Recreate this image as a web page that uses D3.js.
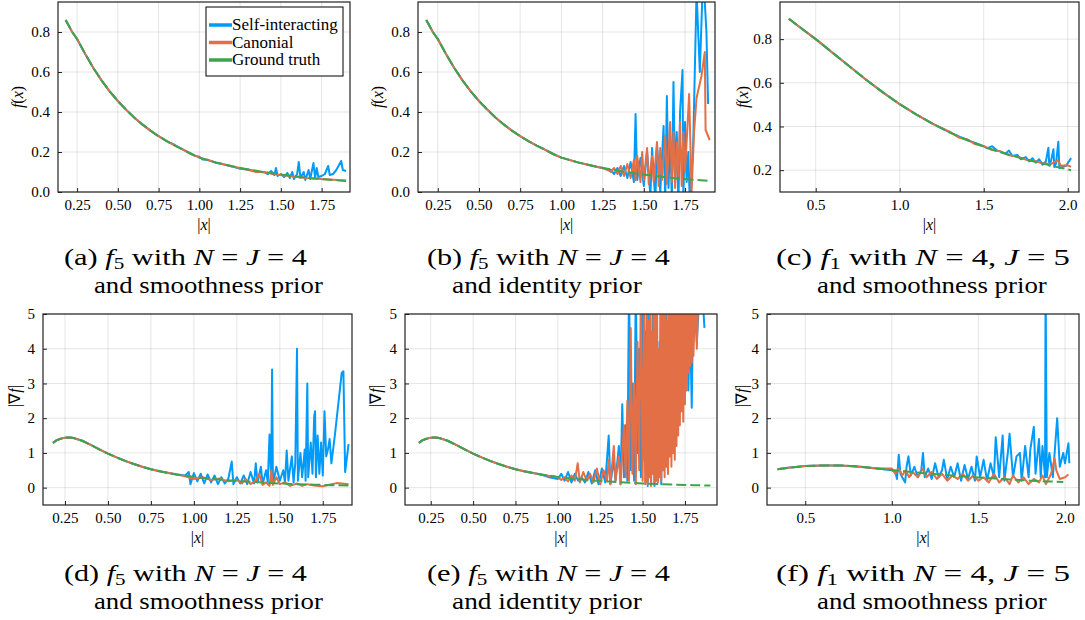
<!DOCTYPE html>
<html>
<head>
<meta charset="utf-8">
<script src="https://cdn.jsdelivr.net/npm/d3@7"></script>
<style>
  body { margin: 0; background: #fff; }
  text { font-family: "Liberation Serif", "Times New Roman", serif; fill: #000; }
</style>
</head>
<body>
<svg id="chart" width="1085" height="620"></svg>
<script>
// ground truth curves
const f5Truth = [[0.18,0.860],[0.20,0.830],[0.22,0.800],[0.25,0.765],[0.30,0.690],[0.35,0.620],[0.40,0.558],[0.45,0.503],[0.50,0.455],[0.55,0.412],[0.60,0.373],[0.65,0.338],[0.70,0.307],[0.75,0.279],[0.80,0.254],[0.85,0.232],[0.90,0.212],[0.95,0.190],[1.00,0.172],[1.10,0.148],[1.20,0.129],[1.30,0.113],[1.40,0.099],[1.50,0.087],[1.60,0.077],[1.70,0.068],[1.80,0.061],[1.90,0.055]];
const gradF5Truth = [[0.18,1.29],[0.20,1.36],[0.22,1.40],[0.25,1.44],[0.28,1.445],[0.30,1.43],[0.35,1.35],[0.40,1.23],[0.45,1.10],[0.50,0.98],[0.55,0.87],[0.60,0.77],[0.65,0.68],[0.70,0.60],[0.75,0.53],[0.80,0.47],[0.90,0.38],[1.00,0.31],[1.10,0.255],[1.20,0.21],[1.30,0.175],[1.40,0.145],[1.50,0.12],[1.60,0.10],[1.70,0.085],[1.80,0.07],[1.90,0.06]];
const f1Truth = [[0.34,0.893],[0.40,0.858],[0.50,0.800],[0.60,0.738],[0.70,0.676],[0.80,0.614],[0.90,0.556],[1.00,0.502],[1.10,0.454],[1.20,0.411],[1.30,0.372],[1.40,0.338],[1.50,0.308],[1.60,0.282],[1.70,0.260],[1.80,0.240],[1.90,0.221],[2.02,0.200]];
const gradF1Truth = [[0.34,0.53],[0.40,0.57],[0.50,0.62],[0.60,0.64],[0.70,0.64],[0.80,0.61],[0.90,0.56],[1.00,0.51],[1.10,0.46],[1.20,0.41],[1.30,0.37],[1.40,0.33],[1.50,0.29],[1.60,0.26],[1.70,0.23],[1.80,0.20],[1.90,0.18],[1.99,0.16]];

// noisy tails of the estimates (self-interacting = blue, canonial = orange)
const aBlue = [[0.85,0.235],[0.90,0.212],[0.95,0.192],[0.97,0.182],[1.00,0.176],[1.02,0.163],[1.05,0.161],[1.10,0.146],[1.15,0.137],[1.20,0.128],[1.25,0.116],[1.30,0.112],[1.35,0.103],[1.40,0.098],[1.42,0.090],[1.44,0.105],[1.46,0.085],[1.47,0.120],[1.48,0.080],[1.50,0.090],[1.52,0.075],[1.54,0.095],[1.555,0.070],[1.57,0.100],[1.58,0.065],[1.60,0.090],[1.61,0.150],[1.62,0.070],[1.64,0.100],[1.65,0.060],[1.67,0.110],[1.68,0.065],[1.70,0.145],[1.71,0.070],[1.72,0.120],[1.73,0.075],[1.75,0.080],[1.77,0.090],[1.79,0.130],[1.80,0.085],[1.82,0.090],[1.84,0.110],[1.87,0.155],[1.88,0.110],[1.90,0.105]];
const aOrange = [[1.30,0.110],[1.35,0.100],[1.40,0.100],[1.45,0.090],[1.50,0.085],[1.55,0.080],[1.60,0.075],[1.65,0.070],[1.70,0.068],[1.75,0.065],[1.80,0.063],[1.85,0.060],[1.90,0.058]];
const bBlue = [[1.30,0.110],[1.32,0.090],[1.34,0.120],[1.36,0.080],[1.38,0.130],[1.40,0.070],[1.42,0.150],[1.44,0.050],[1.45,0.390],[1.46,0.060],[1.48,0.170],[1.50,0.030],[1.52,0.200],[1.54,-0.02],[1.55,0.220],[1.57,-0.05],[1.58,0.240],[1.60,0.000],[1.62,0.330],[1.63,-0.05],[1.64,0.480],[1.65,0.020],[1.66,0.280],[1.67,-0.04],[1.68,0.550],[1.69,0.050],[1.70,0.300],[1.71,-0.06],[1.72,0.400],[1.735,0.610],[1.74,-0.03],[1.75,0.350],[1.76,0.050],[1.77,0.200],[1.78,-0.08],[1.80,0.250],[1.82,1.000],[1.84,0.600],[1.86,1.100],[1.88,0.800],[1.89,0.440]];
const bOrange = [[1.25,0.120],[1.28,0.110],[1.30,0.100],[1.32,0.120],[1.34,0.090],[1.36,0.130],[1.38,0.080],[1.40,0.140],[1.42,0.070],[1.44,0.160],[1.45,0.060],[1.46,0.180],[1.48,0.050],[1.49,0.200],[1.50,0.060],[1.52,0.220],[1.53,0.040],[1.55,0.180],[1.56,0.050],[1.58,0.250],[1.59,0.030],[1.60,0.220],[1.61,0.060],[1.63,0.280],[1.64,0.040],[1.65,0.200],[1.66,0.350],[1.67,0.050],[1.68,0.300],[1.69,0.020],[1.70,0.250],[1.71,0.080],[1.72,0.350],[1.73,0.030],[1.74,0.300],[1.75,0.100],[1.76,0.250],[1.775,0.490],[1.79,0.000],[1.805,0.300],[1.82,0.470],[1.85,0.580],[1.87,0.700],[1.875,0.310],[1.90,0.260]];
const cBlue = [[1.40,0.338],[1.45,0.325],[1.50,0.310],[1.52,0.300],[1.55,0.310],[1.58,0.290],[1.60,0.285],[1.63,0.275],[1.65,0.290],[1.67,0.265],[1.70,0.270],[1.72,0.250],[1.75,0.260],[1.77,0.240],[1.79,0.255],[1.81,0.235],[1.83,0.250],[1.85,0.225],[1.87,0.240],[1.885,0.303],[1.89,0.220],[1.90,0.240],[1.915,0.296],[1.92,0.215],[1.93,0.230],[1.944,0.330],[1.95,0.210],[1.97,0.215],[1.99,0.220],[2.02,0.255]];
const cOrange = [[1.30,0.375],[1.35,0.350],[1.40,0.342],[1.45,0.318],[1.50,0.310],[1.55,0.292],[1.60,0.286],[1.65,0.268],[1.70,0.262],[1.75,0.248],[1.80,0.242],[1.85,0.232],[1.90,0.228],[1.94,0.245],[1.96,0.220],[2.00,0.222],[2.02,0.215]];
const dBlue = [[0.95,0.35],[0.97,0.45],[0.98,0.10],[1.00,0.42],[1.02,0.18],[1.04,0.40],[1.06,0.12],[1.08,0.38],[1.10,0.15],[1.12,0.35],[1.14,0.10],[1.16,0.30],[1.18,0.12],[1.20,0.25],[1.22,0.75],[1.23,0.10],[1.25,0.30],[1.27,0.12],[1.29,0.35],[1.31,0.10],[1.33,0.45],[1.35,0.12],[1.36,0.70],[1.37,0.15],[1.39,0.60],[1.40,0.10],[1.42,0.50],[1.43,0.15],[1.44,1.53],[1.45,0.20],[1.455,3.40],[1.46,0.10],[1.48,0.60],[1.50,0.20],[1.52,0.50],[1.53,0.15],[1.54,1.07],[1.55,0.20],[1.57,0.90],[1.58,0.15],[1.59,0.70],[1.60,4.00],[1.605,0.20],[1.62,1.00],[1.63,0.30],[1.645,1.10],[1.65,0.20],[1.66,3.00],[1.665,0.30],[1.68,1.30],[1.69,0.40],[1.70,2.05],[1.705,2.20],[1.71,0.30],[1.72,1.50],[1.73,0.40],[1.74,1.30],[1.75,0.35],[1.76,2.20],[1.77,0.90],[1.78,1.10],[1.79,1.40],[1.80,0.70],[1.82,1.50],[1.86,3.30],[1.87,3.35],[1.88,0.45],[1.90,1.25]];
const dOrange = [[0.95,0.33],[1.00,0.25],[1.05,0.30],[1.10,0.22],[1.15,0.26],[1.20,0.18],[1.25,0.22],[1.28,0.12],[1.30,0.25],[1.33,0.10],[1.36,0.20],[1.38,0.40],[1.40,0.08],[1.42,0.15],[1.44,0.05],[1.45,0.50],[1.46,0.08],[1.48,0.30],[1.50,0.10],[1.53,0.15],[1.56,0.05],[1.60,0.12],[1.63,0.05],[1.66,0.10],[1.70,0.06],[1.75,0.04],[1.80,0.10],[1.83,0.13],[1.86,0.12],[1.90,0.10]];
const eBlue = [[0.95,0.30],[1.00,0.25],[1.02,0.40],[1.04,0.20],[1.06,0.45],[1.08,0.15],[1.10,0.40],[1.12,0.20],[1.14,0.30],[1.16,0.15],[1.18,0.45],[1.20,0.12],[1.22,0.50],[1.24,0.10],[1.26,0.55],[1.28,0.15],[1.30,1.50],[1.31,0.10],[1.33,0.80],[1.34,0.20],[1.36,1.20],[1.37,0.10],[1.38,2.40],[1.39,0.30],[1.40,1.80],[1.41,0.20],[1.42,6.0],[1.43,0.50],[1.44,3.00],[1.45,0.20],[1.46,6.0],[1.47,1.00],[1.48,4.00],[1.49,0.30],[1.50,6.0],[1.51,0.80],[1.52,4.50],[1.53,0.05],[1.54,6.0],[1.55,0.10],[1.56,5.50],[1.57,0.05],[1.58,6.0],[1.59,0.20],[1.60,4.20],[1.61,0.10],[1.62,6.0],[1.63,0.60],[1.64,6.0],[1.65,0.40],[1.66,5.50],[1.67,1.50],[1.68,6.0],[1.69,1.20],[1.70,6.0],[1.71,2.00],[1.72,6.0],[1.73,3.00],[1.74,4.50],[1.75,3.50],[1.76,6.0],[1.77,2.80],[1.78,4.80],[1.79,2.30],[1.80,6.0],[1.82,4.20],[1.84,6.0],[1.86,5.00],[1.865,4.60]];
const eOrange = [[1.00,0.30],[1.02,0.22],[1.04,0.30],[1.06,0.18],[1.08,0.35],[1.10,0.20],[1.117,0.70],[1.13,0.15],[1.15,0.45],[1.17,0.20],[1.19,0.40],[1.21,0.15],[1.23,0.55],[1.25,0.10],[1.27,0.50],[1.29,0.20],[1.30,0.80],[1.31,0.10],[1.33,1.20],[1.34,0.20],[1.36,0.90],[1.37,0.10],[1.39,1.80],[1.40,0.30],[1.41,2.50],[1.42,0.20],[1.43,4.60],[1.44,0.40],[1.45,3.00],[1.46,0.10],[1.47,4.20],[1.48,0.50],[1.49,6.0],[1.50,0.20],[1.51,5.00],[1.515,0.10],[1.520,0.20],[1.525,6.0],[1.530,0.10],[1.535,4.80],[1.540,0.30],[1.545,6.0],[1.550,0.05],[1.555,4.50],[1.560,0.40],[1.565,6.0],[1.570,0.10],[1.575,5.20],[1.580,0.20],[1.585,6.0],[1.590,0.15],[1.595,4.00],[1.600,0.30],[1.605,6.0],[1.610,0.20],[1.615,5.50],[1.620,0.50],[1.625,6.0],[1.630,0.30],[1.635,6.0],[1.640,0.60],[1.645,4.80],[1.650,0.40],[1.655,6.0],[1.660,0.90],[1.665,6.0],[1.670,0.60],[1.675,5.00],[1.680,1.00],[1.685,6.0],[1.690,0.80],[1.695,6.0],[1.700,1.20],[1.705,5.50],[1.710,1.50],[1.715,6.0],[1.720,1.80],[1.725,6.0],[1.730,2.20],[1.735,6.0],[1.740,1.90],[1.745,5.50],[1.750,2.40],[1.755,6.0],[1.760,2.80],[1.765,6.0],[1.770,3.30],[1.775,6.0],[1.780,3.50],[1.785,5.20],[1.790,3.60],[1.795,6.0],[1.800,3.80],[1.810,5.50],[1.820,4.00],[1.830,6.0]];
const fBlue = [[1.00,0.50],[1.02,0.45],[1.03,0.25],[1.04,0.95],[1.05,0.40],[1.06,0.30],[1.077,0.15],[1.085,0.60],[1.096,0.90],[1.11,0.35],[1.13,0.60],[1.15,0.30],[1.17,0.50],[1.18,1.00],[1.19,0.30],[1.21,0.55],[1.23,0.25],[1.25,0.70],[1.27,0.30],[1.29,0.50],[1.30,0.80],[1.32,0.25],[1.34,0.60],[1.36,0.30],[1.38,0.70],[1.40,0.20],[1.42,0.65],[1.44,0.25],[1.46,0.60],[1.48,0.20],[1.49,0.90],[1.51,0.30],[1.53,0.80],[1.55,0.20],[1.57,0.70],[1.59,0.30],[1.60,1.45],[1.62,0.30],[1.64,1.50],[1.65,0.20],[1.67,1.00],[1.68,1.55],[1.70,0.30],[1.72,0.90],[1.74,1.00],[1.75,0.20],[1.77,1.20],[1.79,0.30],[1.80,1.10],[1.82,1.75],[1.83,0.40],[1.85,1.40],[1.86,0.30],[1.87,1.20],[1.885,0.30],[1.888,6.0],[1.895,0.30],[1.91,1.00],[1.93,0.30],[1.955,2.00],[1.97,0.60],[1.99,1.00],[2.00,0.70],[2.02,1.28],[2.025,0.70]];
const fOrange = [[1.00,0.55],[1.02,0.40],[1.04,0.55],[1.06,0.35],[1.08,0.50],[1.10,0.30],[1.12,0.45],[1.15,0.30],[1.18,0.55],[1.20,0.30],[1.23,0.45],[1.26,0.25],[1.29,0.40],[1.32,0.20],[1.35,0.35],[1.38,0.25],[1.41,0.40],[1.44,0.20],[1.47,0.35],[1.50,0.20],[1.53,0.30],[1.56,0.15],[1.59,0.40],[1.62,0.15],[1.65,0.30],[1.68,0.10],[1.70,0.35],[1.73,0.15],[1.76,0.30],[1.79,0.10],[1.82,0.25],[1.85,0.15],[1.87,0.35],[1.89,0.10],[1.92,0.40],[1.94,0.85],[1.95,0.50],[1.97,0.25],[2.00,0.30],[2.02,0.38]];

// tick values
const xTicksF5 = [0.25, 0.50, 0.75, 1.00, 1.25, 1.50, 1.75];
const xTicksF1 = [0.5, 1.0, 1.5, 2.0];
const yTicksF5 = [0.0, 0.2, 0.4, 0.6, 0.8];
const yTicksF1 = [0.2, 0.4, 0.6, 0.8];
const yTicksGrad = [0, 1, 2, 3, 4, 5];

// captions
const capLetters = ["a", "b", "c", "d", "e", "f"];
const capFunc = ["5", "5", "1", "5", "5", "1"];
const capCond = ["N = J = 4", "N = J = 4", "N = 4, J = 5", "N = J = 4", "N = J = 4", "N = 4, J = 5"];
const capPrior = ["smoothness", "identity", "smoothness", "smoothness", "identity", "smoothness"];
const legendNames = ["Self-interacting", "Canonial", "Ground truth"];

const BLUE = "#009AFA", ORANGE = "#E26F46", GREEN = "#3DA44D";
const seriesColors = [BLUE, ORANGE, GREEN];

const panels = [
  {left: 58,  right: 350,  top: 2,   bottom: 192, xd: [0.133, 1.924], yd: [0, 0.95],   xt: xTicksF5, yt: yTicksF5, fx: ".2f", fy: ".1f", truth: f5Truth,     blue: aBlue, orange: aOrange, grad: false, ylx: 18, yly: 97},
  {left: 418, right: 715,  top: 2,   bottom: 192, xd: [0.130, 1.932], yd: [0, 0.95],   xt: xTicksF5, yt: yTicksF5, fx: ".2f", fy: ".1f", truth: f5Truth,     blue: bBlue, orange: bOrange, grad: false, ylx: 378, yly: 97},
  {left: 780, right: 1079, top: 2,   bottom: 192, xd: [0.2875, 2.067], yd: [0.1, 0.97], xt: xTicksF1, yt: yTicksF1, fx: ".1f", fy: ".1f", truth: f1Truth,     blue: cBlue, orange: cOrange, grad: false, ylx: 743, yly: 97},
  {left: 43,  right: 352,  top: 314, bottom: 505, xd: [0.122, 1.920], yd: [-0.5, 5],   xt: xTicksF5, yt: yTicksGrad, fx: ".2f", fy: "d", truth: gradF5Truth, blue: dBlue, orange: dOrange, grad: true, ylx: 15, yly: 396},
  {left: 405, right: 717,  top: 314, bottom: 505, xd: [0.098, 1.939], yd: [-0.5, 5],   xt: xTicksF5, yt: yTicksGrad, fx: ".2f", fy: "d", truth: gradF5Truth, blue: eBlue, orange: eOrange, grad: true, ylx: 376, yly: 396},
  {left: 767, right: 1079, top: 314, bottom: 505, xd: [0.279, 2.081], yd: [-0.5, 5],   xt: xTicksF1, yt: yTicksGrad, fx: ".1f", fy: "d", truth: gradF1Truth, blue: fBlue, orange: fOrange, grad: true, ylx: 742, yly: 396}
];

// caption placement: start x of the two lines, target widths, first baseline
const capLayout = [
  {x1: 64, x2: 94, w1: 243, w2: 229, y: 265},
  {x1: 427, x2: 452, w1: 243, w2: 190, y: 265},
  {x1: 776, x2: 817, w1: 294, w2: 230, y: 265},
  {x1: 64, x2: 94, w1: 243, w2: 229, y: 581},
  {x1: 427, x2: 452, w1: 243, w2: 190, y: 581},
  {x1: 776, x2: 817, w1: 294, w2: 230, y: 581}
];

const svg = d3.select("#chart");

panels.forEach(function(p, i) {
  const x = d3.scaleLinear().domain(p.xd).range([p.left, p.right]);
  const y = d3.scaleLinear().domain(p.yd).range([p.bottom, p.top]);
  const g = svg.append("g");

  // grid
  g.selectAll(".gx").data(p.xt).enter().append("line")
    .attr("x1", d => x(d)).attr("x2", d => x(d))
    .attr("y1", p.top).attr("y2", p.bottom)
    .attr("stroke", "#000").attr("stroke-opacity", 0.1).attr("stroke-width", 1);
  g.selectAll(".gy").data(p.yt).enter().append("line")
    .attr("x1", p.left).attr("x2", p.right)
    .attr("y1", d => y(d)).attr("y2", d => y(d))
    .attr("stroke", "#000").attr("stroke-opacity", 0.1).attr("stroke-width", 1);

  // ticks (pointing inward) and labels through d3 axes
  const xAxis = d3.axisBottom(x).tickValues(p.xt).tickSizeInner(-4).tickSizeOuter(0).tickPadding(7).tickFormat(d3.format(p.fx));
  const yAxis = d3.axisLeft(y).tickValues(p.yt).tickSizeInner(-4).tickSizeOuter(0).tickPadding(8).tickFormat(d3.format(p.fy));
  const gx = g.append("g").attr("transform", "translate(0," + p.bottom + ")").call(xAxis);
  const gy = g.append("g").attr("transform", "translate(" + p.left + ",0)").call(yAxis);
  [gx, gy].forEach(a => {
    a.select(".domain").remove();
    a.attr("font-family", null).attr("font-size", null);
    a.selectAll("line").attr("stroke", "#222");
    a.selectAll("text").style("font-size", "15px").attr("fill", "#000");
  });

  // lines
  svg.append("clipPath").attr("id", "clip" + i).append("rect")
    .attr("x", p.left).attr("y", p.top).attr("width", p.right - p.left).attr("height", p.bottom - p.top);
  const plot = g.append("g").attr("clip-path", "url(#clip" + i + ")");
  const line = d3.line().x(d => x(d[0])).y(d => y(d[1]));
  const withTail = tail => p.truth.filter(d => d[0] < tail[0][0]).concat(tail);

  plot.append("path").datum(withTail(p.blue)).attr("d", line)
    .attr("fill", "none").attr("stroke", BLUE).attr("stroke-width", 2).attr("stroke-linejoin", "round");
  plot.append("path").datum(withTail(p.orange)).attr("d", line)
    .attr("fill", "none").attr("stroke", ORANGE).attr("stroke-width", 2).attr("stroke-linejoin", "round");
  plot.append("path").datum(p.truth).attr("d", line)
    .attr("fill", "none").attr("stroke", GREEN).attr("stroke-width", 2).attr("stroke-dasharray", "10,4");

  // frame
  g.append("rect").attr("x", p.left).attr("y", p.top)
    .attr("width", p.right - p.left).attr("height", p.bottom - p.top)
    .attr("fill", "none").attr("stroke", "#222").attr("stroke-width", 1.2);

  // axis labels
  const xl = g.append("text").attr("x", (p.left + p.right) / 2).attr("y", p.bottom + 38)
    .attr("text-anchor", "middle").style("font-size", "16px");
  xl.append("tspan").text("|");
  xl.append("tspan").attr("font-style", "italic").text("x");
  xl.append("tspan").text("|");

  const yl = g.append("text").attr("transform", "translate(" + (p.ylx + 5) + "," + p.yly + ") rotate(-90)")
    .attr("text-anchor", "middle").style("font-size", "16px");
  if (p.grad) {
    yl.append("tspan").text("|∇");
    yl.append("tspan").attr("font-style", "italic").text("f");
    yl.append("tspan").text("|");
  } else {
    yl.append("tspan").attr("font-style", "italic").text("f");
    yl.append("tspan").text("(");
    yl.append("tspan").attr("font-style", "italic").text("x");
    yl.append("tspan").text(")");
  }

  // caption
  const c = capLayout[i];
  const t1 = svg.append("text").attr("x", c.x1).attr("y", c.y).style("font-size", "23px");
  t1.append("tspan").text("(" + capLetters[i] + ") ");
  t1.append("tspan").attr("font-style", "italic").text("f");
  t1.append("tspan").attr("font-size", "16px").attr("dy", 4).text(capFunc[i]);
  t1.append("tspan").attr("dy", -4).text(" with ");
  capCond[i].split(/([NJ])/).filter(s => s.length).forEach(s => {
    const ts = t1.append("tspan").text(s);
    if (s === "N" || s === "J") ts.attr("font-style", "italic");
  });
  const t2 = svg.append("text").attr("x", c.x2).attr("y", c.y + 28).style("font-size", "23px")
    .text("and " + capPrior[i] + " prior");
  [[t1, c.x1, c.w1], [t2, c.x2, c.w2]].forEach(([t, x0, w]) => {
    const len = t.node().getComputedTextLength();
    t.attr("transform", "translate(" + x0 + ",0) scale(" + (w / len) + ",1) translate(" + (-x0) + ",0)");
  });
});

// legend in the first panel
const lg = svg.append("g").attr("transform", "translate(206,7)");
lg.append("rect").attr("width", 137).attr("height", 69).attr("fill", "#fff").attr("stroke", "#000").attr("stroke-width", 1);
legendNames.forEach(function(name, k) {
  const yy = 18 + k * 17.5;
  lg.append("line").attr("x1", 3).attr("x2", 26).attr("y1", yy).attr("y2", yy)
    .attr("stroke", seriesColors[k]).attr("stroke-width", 3.5);
  lg.append("text").attr("x", 26).attr("y", yy + 5).style("font-size", "17px").text(name);
});
</script>
</body>
</html>
